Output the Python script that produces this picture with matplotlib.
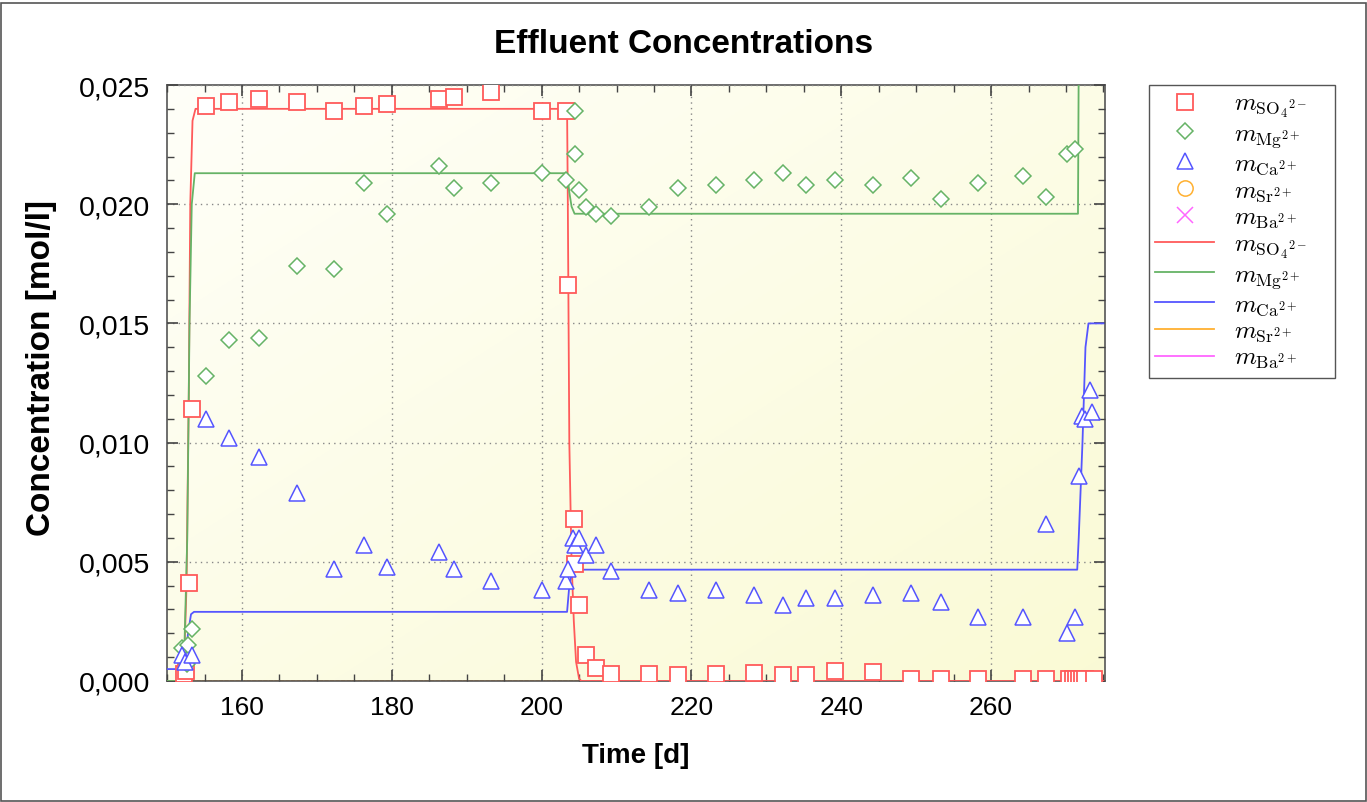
import numpy as np
import matplotlib
matplotlib.use("Agg")
import matplotlib.pyplot as plt
from matplotlib.ticker import MultipleLocator, FuncFormatter
from matplotlib.patches import Rectangle

plt.rcParams["font.family"] = ["Liberation Sans", "DejaVu Sans"]
plt.rcParams["mathtext.fontset"] = "cm"

# measured concentrations (markers)
so4_t = [152.2, 152.5, 152.9, 153.3, 155.2, 158.3, 162.3, 167.4, 172.3, 176.3, 179.3,
         186.3, 188.3, 193.3, 200.1, 203.2, 203.5, 204.3, 204.5, 205.0, 205.9, 207.3,
         209.3, 214.3, 218.2, 223.3, 228.3, 232.2, 235.3, 239.2, 244.2, 249.3, 253.3,
         258.2, 264.3, 267.3, 270.4, 270.9, 271.3, 271.7, 272.1, 272.6, 273.7]
so4_c = [0.0003, 0.0004, 0.0041, 0.0114, 0.0241, 0.0243, 0.0244, 0.0243, 0.0239, 0.0241, 0.0242,
         0.0244, 0.0245, 0.0247, 0.0239, 0.0239, 0.0166, 0.0068, 0.0049, 0.0032, 0.0011, 0.00055,
         0.0003, 0.0003, 0.00025, 0.0003, 0.00034, 0.00025, 0.00025, 0.00043, 0.00036, 0.0001, 0.0001,
         0.0001, 0.0001, 0.0001, 0.0001, 0.0001, 0.0001, 0.0001, 0.0001, 0.0001, 0.0001]

mg_t = [152.0, 152.6, 152.8, 153.3, 155.2, 158.3, 162.3, 167.4, 172.3, 176.3, 179.3,
        186.3, 188.3, 193.3, 200.1, 203.2, 204.4, 204.5, 205.0, 205.9, 207.3, 209.3,
        214.3, 218.2, 223.3, 228.3, 232.2, 235.3, 239.2, 244.2, 249.3, 253.3, 258.2,
        264.2, 267.3, 270.1, 271.2]
mg_c = [0.0014, 0.0007, 0.0015, 0.0022, 0.0128, 0.0143, 0.0144, 0.0174, 0.0173, 0.0209, 0.0196,
        0.0216, 0.0207, 0.0209, 0.0213, 0.0210, 0.0239, 0.0221, 0.0206, 0.0199, 0.0196, 0.0195,
        0.0199, 0.0207, 0.0208, 0.0210, 0.0213, 0.0208, 0.0210, 0.0208, 0.0211, 0.0202, 0.0209,
        0.0212, 0.0203, 0.0221, 0.0223]

ca_t = [152.0, 152.4, 153.3, 155.2, 158.3, 162.3, 167.4, 172.3, 176.3, 179.3, 186.3,
        188.3, 193.3, 200.1, 203.2, 203.5, 204.2, 204.5, 205.0, 205.9, 207.2, 209.3,
        214.3, 218.2, 223.3, 228.3, 232.2, 235.3, 239.2, 244.2, 249.3, 253.3, 258.2,
        264.3, 267.3, 270.2, 271.2, 271.7, 272.2, 272.6, 273.2, 273.5]
ca_c = [0.0011, 0.0008, 0.0011, 0.0110, 0.0102, 0.0094, 0.0079, 0.0047, 0.0057, 0.0048, 0.0054,
        0.0047, 0.0042, 0.0038, 0.0042, 0.0047, 0.0060, 0.0057, 0.0060, 0.0053, 0.0057, 0.0046,
        0.0038, 0.0037, 0.0038, 0.0036, 0.0032, 0.0035, 0.0035, 0.0036, 0.0037, 0.0033, 0.0027,
        0.0027, 0.0066, 0.0020, 0.0027, 0.0086, 0.0111, 0.0110, 0.0122, 0.0113]

sr_t, sr_c = [], []
ba_t, ba_c = [], []

# model curves (breakpoints)
so4_mt = [150.0, 152.2, 152.6, 152.9, 153.1, 153.4, 153.8, 203.4, 203.5, 203.7, 204.0, 204.3, 204.6, 205.0, 205.3, 275.0]
so4_mc = [0.0, 0.0, 0.004, 0.012, 0.020, 0.0235, 0.0240, 0.0240, 0.0200, 0.0100, 0.0050, 0.0025, 0.0008, 0.0001, 0.0, 0.0]

mg_mt = [150.0, 152.2, 152.7, 153.0, 153.3, 153.7, 203.4, 203.7, 204.0, 204.4, 271.6, 271.7, 275.0]
mg_mc = [0.0, 0.0, 0.006, 0.015, 0.020, 0.0213, 0.0213, 0.0205, 0.0199, 0.0196, 0.0196, 0.0260, 0.0300]

ca_mt = [150.0, 152.3, 152.8, 153.2, 153.6, 203.4, 203.7, 204.1, 271.5, 271.7, 272.2, 272.6, 273.0, 275.0]
ca_mc = [0.0005, 0.0005, 0.0020, 0.0028, 0.0029, 0.0029, 0.0040, 0.00467, 0.00467, 0.0060, 0.0100, 0.0140, 0.0150, 0.0150]

sr_mt = [150.0, 275.0]
sr_mc = [0.0, 0.0]
ba_mt = [150.0, 275.0]
ba_mc = [0.0, 0.0]

lab_so4 = r"$m_{\mathrm{SO}_4{}^{2-}}$"
lab_mg = r"$m_{\mathrm{Mg}^{2+}}$"
lab_ca = r"$m_{\mathrm{Ca}^{2+}}$"
lab_sr = r"$m_{\mathrm{Sr}^{2+}}$"
lab_ba = r"$m_{\mathrm{Ba}^{2+}}$"

red = "#ff5a5a"
green = "#66b366"
blue = "#5555ff"
orange = "#ffb030"
magenta = "#ff66ff"

fig = plt.figure(figsize=(13.67, 8.03), dpi=100)
fig.patches.append(Rectangle((0.001, 0.001), 0.998, 0.994, transform=fig.transFigure,
                             fill=False, edgecolor="#555555", linewidth=1.2))
ax = fig.add_axes([0.1222, 0.1507, 0.6861, 0.7422])

# soft yellow gradient background
gx, gy = np.meshgrid(np.linspace(0, 1, 200), np.linspace(0, 1, 200))
g = (gx + gy) / 2
bg = np.zeros((200, 200, 3))
bg[..., 0] = 1.0 - 0.02 * g
bg[..., 1] = 1.0 - 0.02 * g
bg[..., 2] = 0.975 - 0.14 * g
ax.imshow(bg, extent=[0, 1, 0, 1], transform=ax.transAxes, aspect="auto", zorder=0)

ms = dict(markerfacecolor="white", linestyle="none", zorder=5)
ax.plot(so4_t, so4_c, marker="s", markersize=11, markeredgecolor=red, markeredgewidth=1.3, label=lab_so4, **ms)
ax.plot(mg_t, mg_c, marker="D", markersize=8, markeredgecolor=green, markeredgewidth=1.1, label=lab_mg, **ms)
ax.plot(ca_t, ca_c, marker="^", markersize=11, markeredgecolor=blue, markeredgewidth=1.1, label=lab_ca, **ms)
ax.plot(sr_t, sr_c, marker="o", markersize=11, markeredgecolor=orange, markeredgewidth=1.1, label=lab_sr, **ms)
ax.plot(ba_t, ba_c, marker="x", markersize=11, color=magenta, markeredgewidth=1.1, linestyle="none", label=lab_ba)

ax.plot(so4_mt, so4_mc, color=red, lw=1.3, label=lab_so4, zorder=3)
ax.plot(mg_mt, mg_mc, color=green, lw=1.3, label=lab_mg, zorder=3)
ax.plot(ca_mt, ca_mc, color=blue, lw=1.3, label=lab_ca, zorder=3)
ax.plot(sr_mt, sr_mc, color=orange, lw=1.3, label=lab_sr, zorder=2)
ax.plot(ba_mt, ba_mc, color=magenta, lw=1.3, label=lab_ba, zorder=1.5)

ax.set_xlim(150, 275.2)
ax.set_ylim(0, 0.025)
ax.xaxis.set_major_locator(MultipleLocator(20))
ax.xaxis.set_minor_locator(MultipleLocator(5))
ax.yaxis.set_major_locator(MultipleLocator(0.005))
ax.yaxis.set_minor_locator(MultipleLocator(0.001))
ax.yaxis.set_major_formatter(FuncFormatter(lambda v, p: f"{v:.3f}".replace(".", ",")))
ax.tick_params(which="both", direction="in", top=True, right=True, colors="#444444",
               labelcolor="black")
ax.tick_params(which="major", length=8, width=1.2, pad=10)
ax.tick_params(which="minor", length=5, width=1.0)
ax.tick_params(axis="x", labelsize=19)
ax.tick_params(axis="y", which="major", labelsize=20.5, pad=12)
ax.grid(True, which="major", linestyle=(0, (1, 3)), color="#888888", linewidth=1.0)
ax.set_axisbelow(False)
for s in ax.spines.values():
    s.set_color("#555555")
    s.set_linewidth(1.2)

fig.text(0.5, 0.944, "Effluent Concentrations", fontsize=24, fontweight="bold",
         ha="center", va="center")
ax.set_xlabel("Time [d]", fontsize=20, fontweight="bold", labelpad=17)
ax.set_ylabel("Concentration [mol/l]", fontsize=24, fontweight="bold")
ax.yaxis.set_label_coords(-0.117, 0.527)

leg = ax.legend(loc="upper left", bbox_to_anchor=(0.8405, 0.5, 0.136, 0.3929),
                bbox_transform=fig.transFigure, mode="expand",
                fontsize=18, frameon=True, fancybox=False, framealpha=1, edgecolor="#555555",
                borderaxespad=0, handlelength=2.35, labelspacing=0.05, borderpad=0.25,
                handletextpad=0.8)
leg.get_frame().set_linewidth(1.0)

fig.savefig("out.png", dpi=100)
